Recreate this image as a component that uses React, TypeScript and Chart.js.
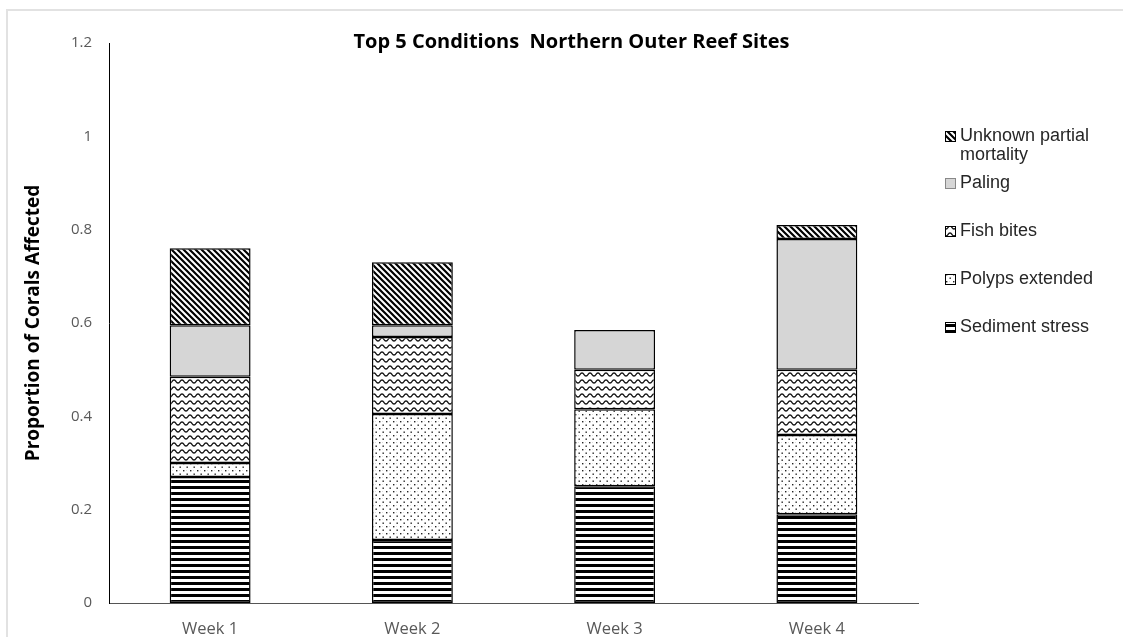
import React, { useEffect, useRef } from 'react';
import { Chart, registerables } from 'chart.js';

Chart.register(...registerables);

// ---- data ----
const weeks = ['Week 1', 'Week 2', 'Week 3', 'Week 4'];
const sedimentStress = [0.27, 0.135, 0.25, 0.19];
const polypsExtended = [0.03, 0.27, 0.165, 0.17];
const fishBites = [0.185, 0.165, 0.085, 0.14];
const paling = [0.11, 0.025, 0.085, 0.28];
const unknownPartialMortality = [0.165, 0.135, 0, 0.03];

const seriesNames = ['Sediment stress', 'Polyps extended', 'Fish bites', 'Paling', 'Unknown partial mortality'];
const legendLabelLines = [['Sediment stress'], ['Polyps extended'], ['Fish bites'], ['Paling'], ['Unknown partial', 'mortality']];
const patternKinds = ['hstripes', 'dots', 'waves', 'solid', 'diag'];
const chartTitle = 'Top 5 Conditions  Northern Outer Reef Sites';
const yAxisTitle = 'Proportion of Corals Affected';
const yMin = 0;
const yMax = 1.2;
const yStep = 0.2;

function makePattern(kind: string): CanvasPattern | string {
  const c = document.createElement('canvas');
  const ctx = c.getContext('2d') as CanvasRenderingContext2D;
  if (kind === 'solid') return '#d6d6d6';
  if (kind === 'hstripes') {
    c.width = 4; c.height = 6;
    ctx.fillStyle = '#fff'; ctx.fillRect(0, 0, 4, 6);
    ctx.fillStyle = '#000'; ctx.fillRect(0, 0, 4, 3);
  } else if (kind === 'dots') {
    c.width = 7; c.height = 7;
    ctx.fillStyle = '#fff'; ctx.fillRect(0, 0, 7, 7);
    ctx.fillStyle = '#222';
    ctx.fillRect(1, 1, 1.4, 1.4);
    ctx.fillRect(4.5, 4.5, 1.4, 1.4);
    ctx.fillStyle = '#ddd';
    ctx.fillRect(4, 1, 1, 1);
  } else if (kind === 'waves') {
    c.width = 8; c.height = 7;
    ctx.fillStyle = '#fff'; ctx.fillRect(0, 0, 8, 7);
    ctx.strokeStyle = '#111'; ctx.lineWidth = 1.3;
    ctx.beginPath();
    for (let x = -1; x <= 9; x += 0.5) {
      const y = 3.5 + 1.6 * Math.sin((2 * Math.PI * x) / 8);
      if (x === -1) ctx.moveTo(x, y); else ctx.lineTo(x, y);
    }
    ctx.stroke();
  } else if (kind === 'diag') {
    const s = 6;
    c.width = s; c.height = s;
    ctx.fillStyle = '#fff'; ctx.fillRect(0, 0, s, s);
    ctx.strokeStyle = '#000'; ctx.lineWidth = 2.2;
    ctx.beginPath();
    for (const o of [-s, 0, s]) {
      ctx.moveTo(o - 1, -1);
      ctx.lineTo(o + s + 1, s + 1);
    }
    ctx.stroke();
  }
  return ctx.createPattern(c, 'repeat') as CanvasPattern;
}

const framePlugin = {
  id: 'frame',
  beforeDraw(chart: any) {
    const { ctx, width, height } = chart;
    ctx.save();
    ctx.fillStyle = '#fff';
    ctx.fillRect(0, 0, width, height);
    ctx.strokeStyle = '#e2e2e2';
    ctx.lineWidth = 2;
    ctx.strokeRect(7, 10, width + 20, height + 20);
    ctx.restore();
  },
};

const titlePlugin = {
  id: 'customTitle',
  afterDraw(chart: any) {
    const { ctx, width, chartArea } = chart;
    ctx.save();
    ctx.font = 'bold 20px "Open Sans"';
    ctx.fillStyle = '#000';
    ctx.textAlign = 'center';
    ctx.textBaseline = 'middle';
    ctx.fillText(chartTitle, width / 2 + 10, chartArea.top - 1);
    ctx.restore();
  },
};

const legendPlugin = {
  id: 'customLegend',
  afterDraw(chart: any) {
    const { ctx, chartArea } = chart;
    const boxX = chartArea.right + 27;
    const textX = boxX + 15;
    let y = chartArea.top + 93;
    ctx.save();
    ctx.font = '18px "Liberation Sans"';
    ctx.textBaseline = 'middle';
    ctx.textAlign = 'left';
    const ds = chart.data.datasets;
    for (let i = ds.length - 1; i >= 0; i--) {
      const lines = legendLabelLines[i];
      ctx.fillStyle = ds[i].backgroundColor;
      ctx.fillRect(boxX, y - 5, 10, 10);
      ctx.strokeStyle = i === 3 ? '#888' : '#000';
      ctx.lineWidth = 1;
      ctx.strokeRect(boxX + 0.5, y - 4.5, 10, 10);
      ctx.fillStyle = '#262626';
      lines.forEach((l, k) => ctx.fillText(l, textX, y + k * 19));
      y += (lines.length - 1) * 19 + (lines.length > 1 ? 28 : 48);
    }
    ctx.restore();
  },
};

export default function App() {
  const ref = useRef<HTMLCanvasElement | null>(null);
  useEffect(() => {
    document.body.style.margin = '0';
    const canvas = ref.current;
    if (!canvas) return;
    const values = [sedimentStress, polypsExtended, fishBites, paling, unknownPartialMortality];
    const chart = new Chart(canvas, {
      type: 'bar',
      data: {
        labels: weeks,
        datasets: values.map((v, i) => ({
          label: seriesNames[i],
          data: v,
          backgroundColor: makePattern(patternKinds[i]) as any,
          borderColor: '#000',
          borderWidth: 1.5,
          borderSkipped: false,
          categoryPercentage: 0.8,
          barPercentage: 0.5,
        })),
      },
      options: {
        responsive: false,
        animation: false,
        layout: { padding: { top: 43, right: 205, left: 0, bottom: 0 } },
        plugins: {
          legend: { display: false },
          title: { display: false },
          tooltip: { enabled: false },
        },
        scales: {
          x: {
            stacked: true,
            grid: { display: false, drawTicks: false },
            border: { display: true, color: '#555', width: 1 },
            ticks: { color: '#595959', padding: 16, font: { family: 'Open Sans', size: 16.5 } },
            afterFit: (s: any) => { s.height = 34; },
          },
          y: {
            stacked: true,
            min: yMin,
            max: yMax,
            grid: { display: false, drawTicks: false },
            border: { display: true, color: '#000', width: 1 },
            ticks: {
              stepSize: yStep,
              color: '#595959',
              padding: 17,
              font: { family: 'Open Sans', size: 15 },
              callback: (v: any) => String(Math.round(Number(v) * 10) / 10),
            },
            title: {
              display: true,
              text: yAxisTitle,
              color: '#000',
              font: { family: 'Open Sans', size: 19, weight: 'bold' },
              padding: { top: 22, bottom: 0 },
            },
            afterFit: (s: any) => { s.width = 109; },
          },
        },
      } as any,
      plugins: [framePlugin, titlePlugin, legendPlugin],
    });
    return () => chart.destroy();
  }, []);
  return (
    <div style={{ width: 1123, height: 637 }}>
      <canvas ref={ref} width={1123} height={637} style={{ display: 'block' }} />
    </div>
  );
}
